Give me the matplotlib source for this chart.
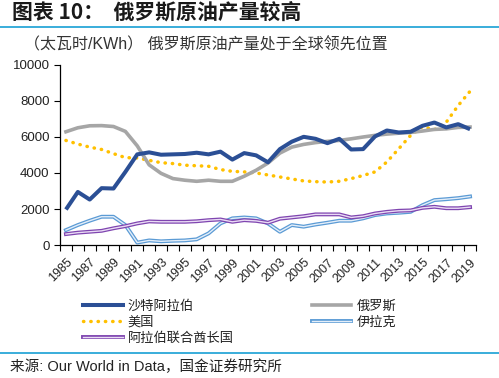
import numpy as np
import matplotlib.pyplot as plt
from matplotlib.lines import Line2D

plt.rcParams['font.family'] = ['Liberation Sans', 'Noto Sans CJK SC', 'DejaVu Sans']

# data (TWh)
years = list(range(1985, 2020))
saudi = [1980, 2950, 2530, 3160, 3140, 4060, 5030, 5140, 5010, 5030,
         5050, 5120, 5030, 5180, 4740, 5100, 4975, 4590, 5320, 5730,
         6000, 5890, 5650, 5890, 5300, 5320, 6020, 6350, 6240, 6280,
         6610, 6790, 6520, 6700, 6420]
russia = [6280, 6500, 6610, 6620, 6570, 6300, 5500, 4450, 3980, 3690,
          3600, 3540, 3600, 3540, 3540, 3820, 4150, 4550, 5100, 5430,
          5580, 5680, 5750, 5800, 5890, 5990, 6080, 6150, 6200, 6240,
          6320, 6410, 6440, 6520, 6540]
usa = [5800, 5600, 5430, 5300, 5070, 4850, 4830, 4700, 4570, 4520,
       4430, 4400, 4370, 4190, 4090, 4060, 4000, 3890, 3780, 3670,
       3560, 3520, 3500, 3540, 3690, 3860, 4060, 4610, 5340, 6080,
       6570, 6390, 6810, 7730, 8520]
iraq = [840, 1120, 1360, 1580, 1580, 1120, 150, 270, 220, 250,
        270, 330, 660, 1210, 1490, 1540, 1490, 1210, 750, 1120,
        1030, 1150, 1250, 1360, 1360, 1490, 1670, 1760, 1800, 1850,
        2220, 2500, 2550, 2610, 2700]
uae = [620, 700, 750, 800, 940, 1060, 1210, 1320, 1300, 1300,
       1300, 1330, 1390, 1430, 1300, 1390, 1350, 1250, 1470, 1540,
       1610, 1710, 1710, 1710, 1540, 1610, 1760, 1850, 1910, 1930,
       2070, 2130, 2050, 2050, 2110]

names = ['沙特阿拉伯', '俄罗斯', '美国', '伊拉克', '阿拉伯联合酋长国']

fig = plt.figure(figsize=(4.99, 3.78), dpi=100)
ax = fig.add_axes([60 / 499, 1 - 245.3 / 378, 416 / 499, (245.3 - 64.5) / 378])

ax.plot(years, saudi, color='#2b4f95', lw=2.9, solid_capstyle='butt', zorder=5)
ax.plot(years, russia, color='#a6a6a6', lw=2.6, zorder=4)
ax.plot(years, usa, color='#ffc000', lw=2.5, ls=(0, (0.1, 2.0)),
        dash_capstyle='round', zorder=3)
# double lines
ax.plot(years, iraq, color='#5b9bd5', lw=2.8, zorder=2)
ax.plot(years, iraq, color='#e4eef9', lw=1.0, zorder=2)
ax.plot(years, uae, color='#7f45b0', lw=2.8, zorder=2)
ax.plot(years, uae, color='#eadcf5', lw=1.0, zorder=2)

ax.set_xlim(1984.5, 2019.5)
ax.set_ylim(0, 10000)
ax.set_yticks(np.arange(0, 10001, 2000))
ax.set_xticks(years[::2])
ax.set_xticklabels([str(y) for y in years[::2]], rotation=45, ha='right',
                   rotation_mode='anchor', fontsize=9, color='#222222')
ax.set_xticks(np.arange(1984.5, 2020, 1), minor=True)
ax.tick_params(axis='x', which='major', length=0, pad=8)
ax.tick_params(axis='x', which='minor', length=4, width=0.8, direction='out')
ax.tick_params(axis='y', length=4, width=0.8, labelsize=9.5, labelcolor='#222222')
ax.spines['top'].set_visible(False)
ax.spines['right'].set_visible(False)
ax.spines['left'].set_linewidth(0.9)
ax.spines['bottom'].set_linewidth(0.9)

# legend, filled column-wise
handles = [
    Line2D([], [], color='#2b4f95', lw=2.9),
    Line2D([], [], color='#ffc000', lw=2.5, ls=(0, (0.1, 2.0)), dash_capstyle='round'),
    (Line2D([], [], color='#7f45b0', lw=2.8), Line2D([], [], color='#eadcf5', lw=1.0)),
    Line2D([], [], color='#a6a6a6', lw=2.6),
    (Line2D([], [], color='#5b9bd5', lw=2.8), Line2D([], [], color='#e4eef9', lw=1.0)),
]
labels = [names[0], names[2], names[4], names[1], names[3]]
fig.legend(handles, labels, ncol=2, loc='upper left',
           bbox_to_anchor=(83 / 499, 1 - 300 / 378), frameon=False,
           fontsize=9.5, handlelength=3.0, handletextpad=0.4,
           columnspacing=5.9, labelspacing=0.28, borderpad=0, borderaxespad=0,
           labelcolor='#222222')

# title, rules and notes
fig.text(12 / 499, 1 - 12 / 378, '图表 10：  俄罗斯原油产量较高', fontsize=15,
         fontweight='bold', style='italic', va='center', ha='left',
         color='#1a1a1a', family=['Noto Sans CJK SC', 'DejaVu Sans'])
fig.add_artist(Line2D([0, 1], [1 - 27 / 378, 1 - 27 / 378], color='#2aa7d8', lw=1.3))
fig.text(24 / 499, 1 - 45 / 378, '（太瓦时/KWh） 俄罗斯原油产量处于全球领先位置',
         fontsize=11.5, va='center', ha='left', color='#333333')
fig.add_artist(Line2D([0, 1], [1 - 353 / 378, 1 - 353 / 378], color='#2aa7d8', lw=1.3))
fig.text(10 / 499, 1 - 367 / 378, '来源: Our World in Data，国金证券研究所',
         fontsize=10.5, va='center', ha='left', color='#222222')

fig.savefig('out.png', dpi=100)
